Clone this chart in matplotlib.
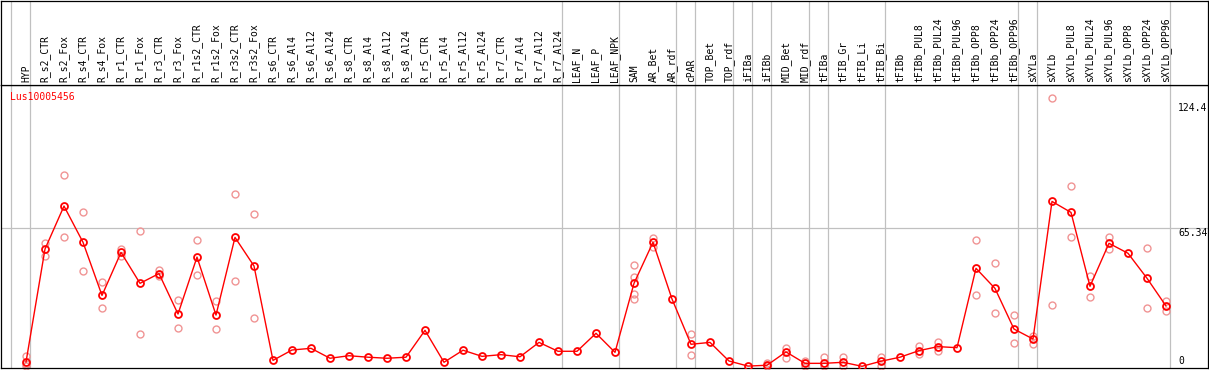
import numpy as np
import matplotlib
matplotlib.use('Agg')
import matplotlib.pyplot as plt

gene = 'Lus10005456'

labels = ['HYP', 'R_s2_CTR', 'R_s2_Fox', 'R_s4_CTR', 'R_s4_Fox', 'R_r1_CTR', 'R_r1_Fox',
          'R_r3_CTR', 'R_r3_Fox', 'R_r1s2_CTR', 'R_r1s2_Fox', 'R_r3s2_CTR', 'R_r3s2_Fox',
          'R_s6_CTR', 'R_s6_Al4', 'R_s6_Al12', 'R_s6_Al24', 'R_s8_CTR', 'R_s8_Al4',
          'R_s8_Al12', 'R_s8_Al24', 'R_r5_CTR', 'R_r5_Al4', 'R_r5_Al12', 'R_r5_Al24',
          'R_r7_CTR', 'R_r7_Al4', 'R_r7_Al12', 'R_r7_Al24', 'LEAF_N', 'LEAF_P', 'LEAF_NPK',
          'SAM', 'AR_Bet', 'AR_rdf', 'cPAR', 'TOP_Bet', 'TOP_rdf', 'iFIBa', 'iFIBb',
          'MID_Bet', 'MID_rdf', 'tFIBa', 'tFIB_Gr', 'tFIB_Li', 'tFIB_Bi', 'tFIBb',
          'tFIBb_PUL8', 'tFIBb_PUL24', 'tFIBb_PUL96', 'tFIBb_OPP8', 'tFIBb_OPP24',
          'tFIBb_OPP96', 'sXYLa', 'sXYLb', 'sXYLb_PUL8', 'sXYLb_PUL24', 'sXYLb_PUL96',
          'sXYLb_OPP8', 'sXYLb_OPP24', 'sXYLb_OPP96']

means = [2.0, 55.4, 75.7, 58.6, 33.5, 53.8, 39.2, 43.8, 24.7, 51.6, 24.2, 60.9, 47.4,
         2.8, 7.7, 8.5, 3.8, 5.0, 4.3, 3.8, 4.3, 17.0, 1.9, 7.6, 4.7,
         5.5, 4.5, 11.3, 7.1, 7.1, 15.6, 6.6,
         39.2, 58.6, 31.8, 10.4, 11.3, 2.5, 0.1, 0.5,
         6.8, 1.4, 1.4, 1.9, 0.0, 2.4, 4.3,
         7.4, 9.3, 8.8, 46.3, 36.8, 17.6,
         12.9, 77.9, 72.7, 37.8, 58.1, 53.4, 41.6, 28.5]

# replicate values (empty where they sit under the mean marker)
reps = [[5.0, 1.0, 0.0], [58.4, 52.1], [90.4, 60.9], [72.9, 45.0], [39.7, 27.4],
        [55.4, 52.1], [63.8, 15.3], [45.5, 42.6], [31.2, 17.9], [59.5, 43.0],
        [30.7, 17.5], [81.2, 40.3], [71.8, 22.7],
        [], [], [], [], [], [], [], [], [], [], [], [], [], [], [], [], [], [], [],
        [47.7, 42.0, 34.2, 31.9], [60.8, 56.2], [], [15.1, 5.2], [], [], [], [1.6, 0.0],
        [8.8, 4.1], [2.7, 0.0], [4.5, 0.0], [4.5, 0.0], [], [4.5, 0.3], [],
        [9.7, 5.7], [11.6, 7.4], [], [59.5, 33.5], [48.7, 25.0], [24.1, 10.9],
        [14.5, 10.5], [126.6, 28.8], [85.0, 60.9], [42.7, 32.6], [61.1, 55.3], [],
        [55.7, 27.4], [30.7, 26.3]]

# group separators are drawn just after these category indices
group_ends = [-1, 0, 28, 31, 34, 35, 37, 38, 39, 41, 42, 45, 52, 53, 60]

y_marks = [124.4, 65.34, 0]

W, H = 1209, 370
fig = plt.figure(figsize=(W / 100, H / 100), dpi=100)
x = np.arange(len(labels))
xlim = ((1 - 26) / 19, (1208 - 26) / 19)

top = 85
ax = fig.add_axes([1 / W, 2 / H, 1207 / W, (368 - top) / H])
lab = fig.add_axes([1 / W, (H - top) / H, 1207 / W, (top - 0.5) / H])

font = dict(family='DejaVu Sans Mono', fontsize=7)

for a in (ax, lab):
    a.set_xlim(*xlim)
    a.set_xticks([])
    a.set_yticks([])
    for s in a.spines.values():
        s.set_linewidth(0.9)
        s.set_color('black')
    for g in group_ends:
        a.axvline(g + 0.21, color='#c0c0c0', lw=0.9, zorder=0)

lab.set_ylim(0, 1)
for i, name in enumerate(labels):
    lab.text(i, 0.03, name, rotation=90, ha='center', va='bottom', **font)

ax.set_ylim(-0.8, 132.9)
ax.axhline(y_marks[1], color='#c0c0c0', lw=0.9, zorder=0)

for i, r in enumerate(reps):
    if r:
        ax.plot([i] * len(r), r, 'o', ms=5, mfc='none', mec='#f09494', mew=1.0,
                clip_on=False, zorder=2)

ax.plot(x, means, '-', color='red', lw=1.0, zorder=3)
ax.plot(x, means, 'o', ms=5, mfc='none', mec='red', mew=1.3, zorder=4)

ax.text(-0.84, 127.2, gene, color='red', va='center', ha='left', **font)

xr = (1178 - 26) / 19
ax.text(xr, y_marks[0], '124.4', ha='left', va='top', **font)
ax.text(xr, y_marks[1], '65.34', ha='left', va='top', **font)
ax.text(xr, y_marks[2], '0', ha='left', va='bottom', **font)

fig.savefig('out.png', dpi=100)
